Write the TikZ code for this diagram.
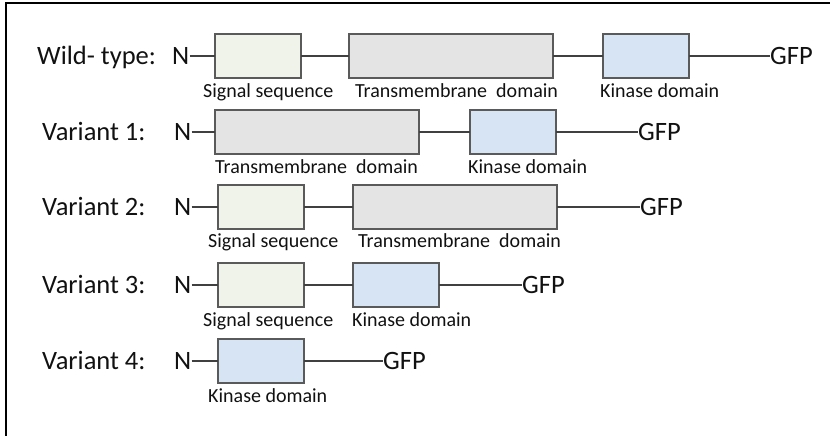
\documentclass[tikz,border=0pt]{standalone}
\usepackage{fontspec}
\setmainfont{Carlito}
\usetikzlibrary{positioning}

\definecolor{sigfill}{HTML}{F0F3EA}
\definecolor{tmfill}{HTML}{E4E4E4}
\definecolor{kinfill}{HTML}{D6E4F3}
\definecolor{boxedge}{HTML}{5A5A5A}
\definecolor{linkgray}{HTML}{404040}
\definecolor{ink}{HTML}{111111}

\begin{document}
\begin{tikzpicture}[
			x=1pt,y=-1pt,
			rowname/.style={font=\fontsize{26.5}{28}\selectfont,text=ink,inner sep=0pt,
				text height=17pt,text depth=0pt,anchor=west},
			dname/.style={font=\fontsize{20}{22}\selectfont,text=ink,inner sep=0pt,
				text height=12.9pt,text depth=0pt,anchor=west},
			dombox/.style={draw=boxedge,line width=1.8pt,inner sep=0pt,outer sep=0pt,
				minimum height=44pt,anchor=west},
			sigbox/.style={dombox,fill=sigfill,minimum width=86pt},
			tmbox/.style={dombox,fill=tmfill,minimum width=204pt},
			kinbox/.style={dombox,fill=kinfill,minimum width=86pt},
			linkline/.style={draw=linkgray,line width=2.4pt},
			]
			\useasboundingbox (0,0) rectangle (830,436);
			\draw[line width=2pt] (6,436) |- (830,3);
			% wild type
			\node [rowname] (wt) at (37,56) {Wild- type:};
			\node [rowname] (wtN) at (172,56) {N};
			\node [sigbox] (wtSig) at (215,56) {};
			\node [tmbox,right=48pt of wtSig] (wtTm) {};
			\node [kinbox,right=50pt of wtTm] (wtKin) {};
			\node [rowname,right=81pt of wtKin] (wtGFP) {GFP};
			\node [dname] (wtSigL) at (203,91) {Signal sequence};
			\node [dname] (wtTmL) at (355,91) {Transmembrane\ \ domain};
			\node [dname] (wtKinL) at (600,91) {Kinase domain};
			\draw [linkline] (wtN) -- (wtSig) -- (wtTm) -- (wtKin) -- (wtGFP);
			% variant 1
			\node [rowname] (v1) at (42,132) {Variant 1:};
			\node [rowname] (v1N) at (174,132) {N};
			\node [tmbox] (v1Tm) at (215,132) {};
			\node [kinbox,right=51pt of v1Tm] (v1Kin) {};
			\node [rowname,right=82pt of v1Kin] (v1GFP) {GFP};
			\node [dname] (v1TmL) at (215,167) {Transmembrane\ \ domain};
			\node [dname] (v1KinL) at (468,167) {Kinase domain};
			\draw [linkline] (v1N) -- (v1Tm) -- (v1Kin) -- (v1GFP);
			% variant 2
			\node [rowname] (v2) at (42,207) {Variant 2:};
			\node [rowname] (v2N) at (174,207) {N};
			\node [sigbox] (v2Sig) at (218,207) {};
			\node [tmbox,right=49pt of v2Sig] (v2Tm) {};
			\node [rowname,right=83pt of v2Tm] (v2GFP) {GFP};
			\node [dname] (v2SigL) at (208,241) {Signal sequence};
			\node [dname] (v2TmL) at (358,241) {Transmembrane\ \ domain};
			\draw [linkline] (v2N) -- (v2Sig) -- (v2Tm) -- (v2GFP);
			% variant 3
			\node [rowname] (v3) at (42,285) {Variant 3:};
			\node [rowname] (v3N) at (174,285) {N};
			\node [sigbox] (v3Sig) at (218,285) {};
			\node [kinbox,right=49pt of v3Sig] (v3Kin) {};
			\node [rowname,right=83pt of v3Kin] (v3GFP) {GFP};
			\node [dname] (v3SigL) at (203,320) {Signal sequence};
			\node [dname] (v3KinL) at (352,320) {Kinase domain};
			\draw [linkline] (v3N) -- (v3Sig) -- (v3Kin) -- (v3GFP);
			% variant 4
			\node [rowname] (v4) at (42,361) {Variant 4:};
			\node [rowname] (v4N) at (174,361) {N};
			\node [kinbox] (v4Kin) at (218,361) {};
			\node [rowname,right=79pt of v4Kin] (v4GFP) {GFP};
			\node [dname] (v4KinL) at (208,396) {Kinase domain};
			\draw [linkline] (v4N) -- (v4Kin) -- (v4GFP);
		\end{tikzpicture}
\end{document}
